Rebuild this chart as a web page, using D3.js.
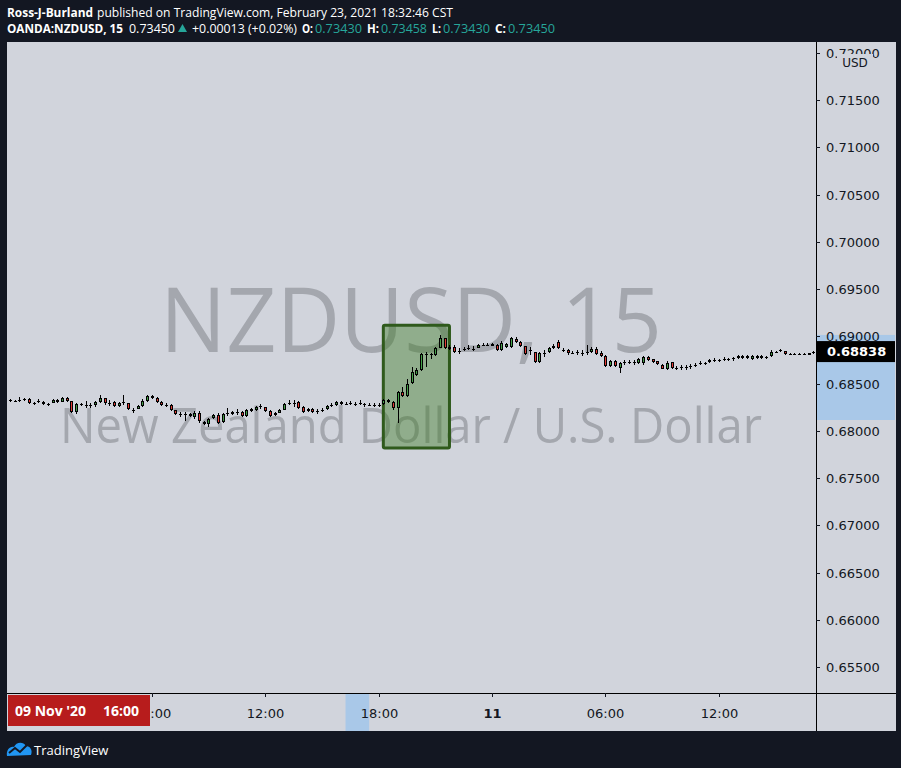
<!DOCTYPE html>
<html><head><meta charset="utf-8">
<script src="https://cdn.jsdelivr.net/npm/d3@7"></script>
<style>html,body{margin:0;padding:0;background:#131722;} svg{display:block}</style>
</head><body><svg id="c" width="901" height="768"></svg>
<script>
// ---------- DATA ----------
const symbol = "NZDUSD";
const interval = "15";
const description = "New Zealand Dollar / U.S. Dollar";
const firstBar = Date.UTC(2020, 10, 9, 22, 30); // 15-minute bars
const barMinutes = 15;

const open = [
.68315,.68315,.68325,.68325,.68336,.68294,.68315,.68304,.68272,.68294,
.68325,.68304,.68347,.68315,.68198,.68283,.68272,.68272,.68272,.68304,
.68347,.68294,.68304,.68262,.68304,.68294,.68220,.68230,.68262,.68315,
.68368,.68347,.68304,.68272,.68272,.68220,.68177,.68177,.68177,.68146,
.68188,.68093,.68072,.68135,.68167,.68093,.68188,.68177,.68198,.68198,
.68156,.68209,.68220,.68262,.68251,.68209,.68167,.68188,.68220,.68294,
.68294,.68304,.68251,.68209,.68230,.68209,.68220,.68230,.68272,.68272,
.68304,.68283,.68294,.68283,.68294,.68283,.68272,.68272,.68272,.68283,
.68325,.68304,.68241,.68410,.68368,.68505,.68590,.68643,.68813,.68813,
.68802,.68876,.68982,.68886,.68886,.68844,.68865,.68876,.68865,.68876,
.68907,.68907,.68918,.68907,.68855,.68886,.68886,.68971,.68939,.68897,
.68855,.68834,.68728,.68823,.68834,.68876,.68939,.68855,.68855,.68823,
.68834,.68823,.68834,.68834,.68865,.68823,.68791,.68685,.68738,.68664,
.68728,.68728,.68728,.68717,.68717,.68781,.68760,.68738,.68696,.68654,
.68728,.68664,.68675,.68675,.68685,.68696,.68717,.68717,.68728,.68749,
.68749,.68760,.68760,.68770,.68770,.68770,.68770,.68760,.68770,.68791,
.68781,.68791,.68834,.68855,.68844,.68813,.68813,.68813,.68813,.68802,
.68834];
const high = [
.68336,.68325,.68357,.68347,.68347,.68304,.68336,.68315,.68294,.68336,
.68336,.68357,.68357,.68315,.68294,.68294,.68315,.68294,.68315,.68378,
.68347,.68325,.68315,.68304,.68378,.68294,.68241,.68272,.68336,.68378,
.68378,.68357,.68315,.68294,.68283,.68220,.68198,.68198,.68188,.68209,
.68209,.68103,.68135,.68177,.68188,.68188,.68241,.68209,.68230,.68209,
.68230,.68241,.68262,.68283,.68251,.68220,.68198,.68230,.68294,.68325,
.68325,.68315,.68262,.68241,.68241,.68230,.68241,.68272,.68294,.68315,
.68315,.68304,.68315,.68304,.68325,.68294,.68294,.68294,.68294,.68336,
.68336,.68315,.68421,.68463,.68548,.68675,.68664,.68823,.68834,.68823,
.68886,.69013,.68982,.68907,.68907,.68876,.68886,.68907,.68897,.68918,
.68929,.68929,.68929,.68918,.68950,.68929,.68992,.68992,.68950,.68897,
.68886,.68834,.68834,.68855,.68886,.68918,.68960,.68876,.68865,.68844,
.68855,.68855,.68907,.68886,.68886,.68844,.68802,.68749,.68749,.68728,
.68749,.68749,.68749,.68770,.68791,.68791,.68760,.68738,.68707,.68738,
.68728,.68685,.68696,.68696,.68707,.68717,.68738,.68728,.68760,.68770,
.68760,.68781,.68770,.68781,.68802,.68802,.68802,.68802,.68802,.68802,
.68791,.68855,.68844,.68865,.68844,.68823,.68823,.68823,.68823,.68823,
.68844];
const low = [
.68304,.68304,.68304,.68315,.68283,.68272,.68294,.68272,.68262,.68294,
.68294,.68304,.68304,.68188,.68177,.68262,.68241,.68241,.68251,.68294,
.68272,.68262,.68251,.68251,.68272,.68220,.68188,.68230,.68251,.68304,
.68336,.68294,.68262,.68251,.68209,.68167,.68146,.68103,.68146,.68124,
.68082,.68061,.68040,.68124,.68072,.68082,.68156,.68167,.68167,.68146,
.68146,.68198,.68209,.68230,.68198,.68146,.68156,.68188,.68220,.68272,
.68251,.68230,.68188,.68198,.68188,.68177,.68198,.68220,.68251,.68262,
.68272,.68272,.68272,.68262,.68272,.68251,.68262,.68251,.68251,.68272,
.68294,.68220,.68082,.68357,.68357,.68495,.68580,.68632,.68675,.68760,
.68791,.68876,.68865,.68855,.68823,.68813,.68844,.68855,.68844,.68876,
.68897,.68897,.68897,.68844,.68844,.68876,.68876,.68929,.68886,.68802,
.68802,.68717,.68717,.68781,.68823,.68865,.68865,.68834,.68802,.68813,
.68802,.68791,.68802,.68823,.68802,.68781,.68675,.68675,.68675,.68611,
.68696,.68707,.68696,.68707,.68696,.68738,.68717,.68696,.68654,.68643,
.68654,.68643,.68643,.68643,.68654,.68675,.68696,.68696,.68717,.68728,
.68728,.68738,.68738,.68738,.68760,.68760,.68760,.68749,.68760,.68760,
.68760,.68781,.68823,.68834,.68802,.68802,.68802,.68802,.68802,.68802,
.68813];
const close = [
.68325,.68315,.68325,.68336,.68294,.68294,.68315,.68283,.68283,.68325,
.68304,.68347,.68315,.68198,.68283,.68283,.68272,.68272,.68304,.68347,
.68294,.68294,.68262,.68294,.68304,.68230,.68220,.68262,.68315,.68368,
.68347,.68304,.68272,.68272,.68220,.68177,.68177,.68167,.68156,.68188,
.68103,.68072,.68124,.68167,.68082,.68177,.68188,.68198,.68198,.68156,
.68220,.68230,.68251,.68262,.68209,.68156,.68188,.68220,.68283,.68294,
.68294,.68241,.68198,.68230,.68198,.68209,.68220,.68262,.68272,.68304,
.68283,.68283,.68294,.68283,.68294,.68283,.68272,.68272,.68272,.68325,
.68304,.68241,.68410,.68368,.68495,.68622,.68643,.68813,.68813,.68813,
.68876,.68982,.68876,.68865,.68834,.68844,.68865,.68876,.68865,.68907,
.68897,.68907,.68897,.68855,.68929,.68918,.68982,.68939,.68897,.68813,
.68855,.68728,.68823,.68823,.68876,.68897,.68876,.68855,.68823,.68823,
.68834,.68823,.68834,.68865,.68813,.68791,.68685,.68738,.68685,.68717,
.68728,.68728,.68728,.68760,.68781,.68749,.68728,.68707,.68654,.68717,
.68664,.68664,.68675,.68675,.68685,.68696,.68717,.68717,.68749,.68749,
.68749,.68760,.68760,.68770,.68791,.68791,.68791,.68791,.68791,.68770,
.68770,.68834,.68834,.68855,.68813,.68813,.68813,.68813,.68813,.68823,
.68838];

const priceTicks = [0.655,0.66,0.665,0.67,0.675,0.68,0.685,0.69,0.695,0.70,0.705,0.71,0.715,0.72];
const timeTickDates = [Date.UTC(2020,10,10,6),Date.UTC(2020,10,10,12),Date.UTC(2020,10,10,18),
                       Date.UTC(2020,10,11,0),Date.UTC(2020,10,11,6),Date.UTC(2020,10,11,12)];
const timeTickLabels = ["06:00","12:00","18:00","11","06:00","12:00"];
const boxRange = {from: Date.UTC(2020,10,10,18,15), to: Date.UTC(2020,10,10,21,45), top: 0.69116, bottom: 0.67817};
const priceHighlight = {top: 0.69014, bottom: 0.68114};
const timeHighlight = {from: Date.UTC(2020,10,10,16,15), to: Date.UTC(2020,10,10,17,30)};
const lastPrice = 0.68838;

// ---------- LAYOUT ----------
const W = 901, H = 768;
const pane = {left: 7, right: 816, top: 42, bottom: 693};
const axisRight = 896, timeBottom = 731;
const BG = "#d1d4dc", FRAME = "#131722";
const barMs = barMinutes * 60000;

const svg = d3.select("#c");
svg.append("rect").attr("width", W).attr("height", H).attr("fill", FRAME);
svg.append("rect").attr("x", pane.left).attr("y", pane.top).attr("width", axisRight - pane.left)
   .attr("height", timeBottom - pane.top).attr("fill", BG);

const data = open.map((o, i) => ({t: new Date(firstBar + i * barMs), o, h: high[i], l: low[i], c: close[i]}));

const x = d3.scaleTime()
  .domain([new Date(firstBar - 0.645 * barMs), new Date(firstBar + 170.57 * barMs)])
  .range([pane.left, pane.right]);
const y = d3.scaleLinear().domain([0.65225, 0.72114]).range([pane.bottom, pane.top]);

// watermark
const wm = svg.append("g").attr("fill", "#a4a7ae").attr("font-family", "'Open Sans', sans-serif").attr("text-anchor", "start");
wm.append("text").attr("x", 160).attr("y", 352).attr("font-size", 90)
  .attr("textLength", 502).attr("lengthAdjust", "spacingAndGlyphs").text(symbol + ", " + interval);
wm.append("text").attr("x", 60).attr("y", 443).attr("font-size", 50)
  .attr("textLength", 702).attr("lengthAdjust", "spacingAndGlyphs").text(description);

// highlighted box
const bx0 = x(new Date(boxRange.from)), bx1 = x(new Date(boxRange.to));
svg.append("rect").attr("x", bx0).attr("y", y(boxRange.top))
  .attr("width", bx1 - bx0).attr("height", y(boxRange.bottom) - y(boxRange.top))
  .attr("rx", 1.5).attr("fill", "rgba(56,118,29,0.42)").attr("stroke", "#2f5a1c").attr("stroke-width", 3);

// candles
const cg = svg.append("g");
data.forEach(d => {
  const cx = Math.round(x(d.t));
  const yh = Math.round(y(d.h)), yl = Math.round(y(d.l));
  cg.append("rect").attr("x", cx).attr("y", yh).attr("width", 1).attr("height", Math.max(1, yl - yh)).attr("fill", "#000");
  const top = Math.round(y(Math.max(d.o, d.c))), bot = Math.round(y(Math.min(d.o, d.c)));
  const h = Math.max(1, bot - top);
  cg.append("rect").attr("x", cx - 1).attr("y", top).attr("width", 3).attr("height", h).attr("fill", "#000");
  if (h > 2) {
    cg.append("rect").attr("x", cx).attr("y", top + 1).attr("width", 1).attr("height", h - 2)
      .attr("fill", d.c >= d.o ? "#43a047" : "#e53935");
  }
});

// price axis
svg.append("rect").attr("x", pane.right + 1).attr("y", y(priceHighlight.top)).attr("width", 78)
  .attr("height", y(priceHighlight.bottom) - y(priceHighlight.top)).attr("fill", "#a9c8e8");
svg.append("line").attr("x1", pane.right + 0.5).attr("x2", pane.right + 0.5).attr("y1", pane.top).attr("y2", timeBottom)
  .attr("stroke", "#000").attr("stroke-width", 1);
const pa = svg.append("g").attr("font-family", "'DejaVu Sans', sans-serif").attr("font-size", 13).attr("fill", "#131722");
priceTicks.forEach(p => {
  const yy = Math.round(y(p)) + 0.5;
  pa.append("line").attr("x1", pane.right).attr("x2", pane.right + 4).attr("y1", yy).attr("y2", yy).attr("stroke", "#131722");
  pa.append("text").attr("x", 826).attr("y", yy).attr("dy", "0.36em").text(p.toFixed(5));
});
// USD label
svg.append("rect").attr("x", 837).attr("y", 54).attr("width", 36).attr("height", 16).attr("fill", BG);
svg.append("text").attr("x", 855).attr("y", 67).attr("text-anchor", "middle").attr("font-family", "'DejaVu Sans', sans-serif")
  .attr("font-size", 12).attr("fill", "#131722").text("USD");
// last price label
const ly = y(lastPrice);
svg.append("rect").attr("x", pane.right + 1).attr("y", ly - 10.5).attr("width", 78).attr("height", 21).attr("fill", "#000");
svg.append("text").attr("x", 827).attr("y", ly).attr("dy", "0.36em").attr("font-family", "'DejaVu Sans', sans-serif")
  .attr("font-size", 13).attr("font-weight", "bold").attr("fill", "#fff").text(lastPrice.toFixed(5));

// time axis
svg.append("line").attr("x1", pane.left).attr("x2", axisRight).attr("y1", pane.bottom + 0.5).attr("y2", pane.bottom + 0.5)
  .attr("stroke", "#000");
const th0 = x(new Date(timeHighlight.from)), th1 = x(new Date(timeHighlight.to));
svg.append("rect").attr("x", th0).attr("y", pane.bottom + 1).attr("width", th1 - th0)
  .attr("height", timeBottom - pane.bottom - 1).attr("fill", "#a9c8e8");
const ta = svg.append("g").attr("font-family", "'DejaVu Sans', sans-serif").attr("font-size", 13).attr("fill", "#131722")
  .attr("text-anchor", "middle");
timeTickDates.forEach((t, i) => {
  const xx = Math.round(x(new Date(t))) + 0.5;
  ta.append("line").attr("x1", xx).attr("x2", xx).attr("y1", pane.bottom).attr("y2", pane.bottom + 4).attr("stroke", "#131722");
  ta.append("text").attr("x", xx).attr("y", 718).attr("font-weight", timeTickLabels[i].length < 3 ? "bold" : "normal")
    .text(timeTickLabels[i]);
});
// crosshair date label
svg.append("rect").attr("x", pane.left + 1).attr("y", 695).attr("width", 142).attr("height", 31).attr("fill", "#b71c1c");
svg.append("text").attr("x", 15).attr("y", 716).attr("font-family", "'Open Sans', sans-serif").attr("font-size", 14)
  .attr("font-weight", "bold").attr("fill", "#fff").text("09 Nov '20");
svg.append("text").attr("x", 103).attr("y", 716).attr("font-family", "'Open Sans', sans-serif").attr("font-size", 14)
  .attr("font-weight", "bold").attr("fill", "#fff").text("16:00");

// header
const hd = svg.append("g").attr("font-family", "'Open Sans', sans-serif").attr("font-size", 12.5).attr("fill", "#fff");
function seg(g, xx, yy, w, txt, bold, fill) {
  const t = g.append("text").attr("x", xx).attr("y", yy).attr("textLength", w).attr("lengthAdjust", "spacingAndGlyphs").text(txt);
  if (bold) t.attr("font-weight", "bold");
  if (fill) t.attr("fill", fill);
}
seg(hd, 7, 16.5, 86, "Ross-J-Burland", true);
seg(hd, 97, 16.5, 356, "published on TradingView.com, February 23, 2021 18:32:46 CST", false);
const teal = "#26a69a";
seg(hd, 7, 32.5, 116, "OANDA:NZDUSD, 15", true);
seg(hd, 129, 32.5, 46, "0.73450", false);
hd.append("path").attr("d", "M178,32 L187,32 L182.5,24 Z").attr("fill", teal);
seg(hd, 192, 32.5, 105, "+0.00013 (+0.02%)", false);
seg(hd, 302, 32.5, 11, "O:", true);
seg(hd, 315, 32.5, 47, "0.73430", false, teal);
seg(hd, 367, 32.5, 12, "H:", true);
seg(hd, 381, 32.5, 46, "0.73458", false, teal);
seg(hd, 432, 32.5, 9, "L:", true);
seg(hd, 443, 32.5, 47, "0.73430", false, teal);
seg(hd, 495, 32.5, 11, "C:", true);
seg(hd, 508, 32.5, 47, "0.73450", false, teal);

// footer logo
const lg = svg.append("g").attr("fill", "#2196f3");
lg.append("path").attr("d", "M7,756 C6,750 10,746 14,747 C16,742 23,741 26,746 C30,746 33,750 31,755 Z");
svg.append("path").attr("d", "M9,753 L15,748 L20,752 L27,745").attr("fill", "none").attr("stroke", "#131722").attr("stroke-width", 2);
svg.append("text").attr("x", 34).attr("y", 755).attr("font-family", "'Open Sans', sans-serif").attr("font-size", 13)
  .attr("fill", "#fff").text("TradingView");
</script></body></html>
